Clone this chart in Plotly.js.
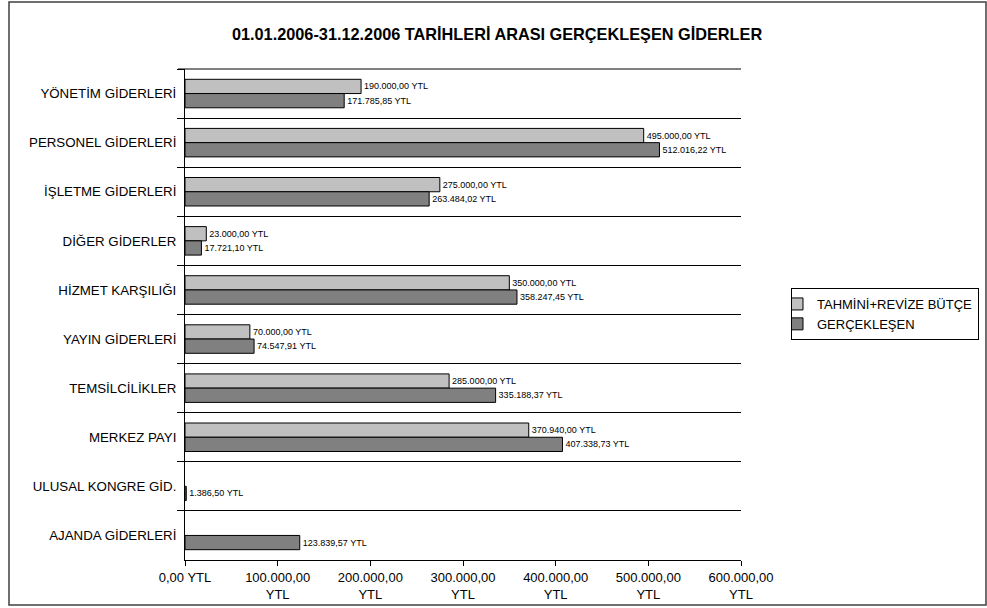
<!DOCTYPE html>
<html>
<head>
<meta charset="utf-8">
<script src="https://cdn.plot.ly/plotly-3.0.1.min.js"></script>
<style>html,body{margin:0;padding:0;background:#fff;}#chart{width:987px;height:608px;}</style>
</head>
<body>
<div id="chart"></div>
<script>
const categories = ["YÖNETİM GİDERLERİ","PERSONEL GİDERLERİ","İŞLETME GİDERLERİ","DİĞER GİDERLER","HİZMET KARŞILIĞI","YAYIN GİDERLERİ","TEMSİLCİLİKLER","MERKEZ PAYI","ULUSAL KONGRE GİD.","AJANDA GİDERLERİ"];
const budget = [190000, 495000, 275000, 23000, 350000, 70000, 285000, 370940, null, null];
const actual = [171785.85, 512016.22, 263484.02, 17721.10, 358247.45, 74547.91, 335188.37, 407338.73, 1386.50, 123839.57];
const seriesNames = ["TAHMİNİ+REVİZE BÜTÇE", "GERÇEKLEŞEN"];
const tickValues = [0, 100000, 200000, 300000, 400000, 500000, 600000];
const tickLabels = ["0,00 YTL", "100.000,00<br>YTL", "200.000,00<br>YTL", "300.000,00<br>YTL", "400.000,00<br>YTL", "500.000,00<br>YTL", "600.000,00<br>YTL"];
const chartTitle = "01.01.2006-31.12.2006 TARİHLERİ ARASI GERÇEKLEŞEN GİDERLER";

function fmt(v) {
  if (v === null || v === undefined) return "";
  const parts = v.toFixed(2).split(".");
  const intPart = parts[0].replace(/\B(?=(\d{3})+(?!\d))/g, ".");
  return intPart + "," + parts[1] + " YTL";
}

const FONT = "Arial, 'Liberation Sans', sans-serif";

const traces = [
  {
    type: "bar", orientation: "h", name: seriesNames[0],
    y: categories, x: budget, text: budget.map(fmt),
    textposition: "outside", cliponaxis: false,
    textfont: {family: FONT, size: 9, color: "#000"},
    marker: {color: "#C0C0C0", line: {color: "#000", width: 1}},
    hoverinfo: "skip"
  },
  {
    type: "bar", orientation: "h", name: seriesNames[1],
    y: categories, x: actual, text: actual.map(fmt),
    textposition: "outside", cliponaxis: false,
    textfont: {family: FONT, size: 9, color: "#000"},
    marker: {color: "#808080", line: {color: "#000", width: 1}},
    hoverinfo: "skip"
  }
];

const L = 185, R = 741, T = 69, B = 560, W = 987, H = 608;
const pw = R - L, ph = B - T;
function px(x) { return (x - L) / pw; }
function py(y) { return (B - y) / ph; }

const layout = {
  width: W, height: H,
  margin: {l: L, r: W - R, t: T, b: H - B, pad: 0, autoexpand: false},
  paper_bgcolor: "#fff", plot_bgcolor: "#fff",
  font: {family: FONT, size: 13, color: "#000"},
  title: {text: "<b>" + chartTitle + "</b>", font: {family: FONT, size: 16.3, color: "#000"},
          x: 0.5036, xref: "container", xanchor: "center", y: 33, yref: "container", yanchor: "middle"},
  barmode: "group", bargap: 0.42, bargroupgap: 0,
  showlegend: true,
  legend: {x: px(979), y: py(314), xanchor: "right", yanchor: "middle",
           bordercolor: "#000", borderwidth: 1, bgcolor: "#fff",
           font: {family: FONT, size: 13, color: "#000"}, traceorder: "normal",
           itemwidth: 30, indentation: -15, tracegroupgap: 0},
  xaxis: {range: [0, 600000], tickvals: tickValues, ticktext: tickLabels,
          showgrid: false, zeroline: false, showline: true, linecolor: "#000", linewidth: 1,
          ticks: "outside", ticklen: 5, tickcolor: "#000",
          tickfont: {family: FONT, size: 13, color: "#000"}, fixedrange: true},
  yaxis: {type: "category", autorange: "reversed", tickson: "boundaries",
          showgrid: true, gridcolor: "#000", gridwidth: 1,
          showline: true, linecolor: "#000", linewidth: 1, zeroline: false,
          ticks: "outside", ticklen: 7, tickcolor: "#000", ticklabelstandoff: 5,
          tickfont: {family: FONT, size: 13.3, color: "#000"}, fixedrange: true},
  shapes: [
    {type: "rect", xref: "paper", yref: "paper", x0: px(9), x1: px(986), y0: py(605), y1: py(2),
     line: {color: "#404040", width: 1.5}, fillcolor: "rgba(0,0,0,0)", layer: "below"},
    {type: "line", xref: "paper", yref: "paper", x0: px(178), x1: 1, y0: 1, y1: 1,
     line: {color: "#000", width: 1}}
  ]
};

Plotly.newPlot("chart", traces, layout, {staticPlot: true, displayModeBar: false});
</script>
</body>
</html>
